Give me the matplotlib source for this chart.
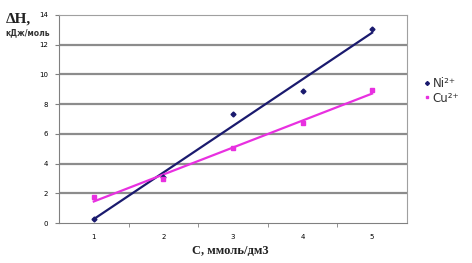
import numpy as np
import matplotlib
matplotlib.use('Agg')
from matplotlib import pyplot as plt

# concentration, mmol/dm3
conc = [1, 2, 3, 4, 5]
# enthalpy, kJ/mol
dh_ni = [0.27, 3.1, 7.35, 8.9, 13.05]
dh_cu = [1.75, 2.95, 5.05, 6.7, 8.95]
y_ticks = [0, 2, 4, 6, 8, 10, 12, 14]

fig = plt.figure(figsize=(4.72, 2.63), dpi=100)
ax = fig.add_axes([0.125, 0.152, 0.737, 0.791])

ax.set_xlim(0.5, 5.5)
ax.set_ylim(0, 14)
ax.set_yticks(y_ticks)
ax.set_xticks(conc)
ax.set_xticks([1.5, 2.5, 3.5, 4.5], minor=True)
for y in y_ticks[1:-1]:
    ax.axhline(y, color='#8c8c8c', lw=1.6, zorder=1)

ni_col = '#1a1a6e'
cu_col = '#e830e0'
x = np.array(conc)
for vals, col, mk, lab in [(dh_ni, ni_col, 'D', 'Ni²⁺'),
                           (dh_cu, cu_col, 's', 'Cu²⁺')]:
    k, b = np.polyfit(x, vals, 1)
    ax.plot(x[[0, -1]], k * x[[0, -1]] + b, color=col, lw=1.6, zorder=3)
    ax.plot(x, vals, linestyle='none', marker=mk, ms=2.5, color=col,
            label=lab, zorder=4)

for s in ['top', 'right']:
    ax.spines[s].set_color('#a0a0a0')
for s in ['left', 'bottom']:
    ax.spines[s].set_color('#808080')
ax.tick_params(axis='both', which='both', labelsize=5, length=3,
               color='#808080', pad=5)
ax.tick_params(axis='x', which='major', length=0, pad=8)

leg = ax.legend(loc='center left', bbox_to_anchor=(1.02, 0.635), frameon=False,
                fontsize=8.5, handlelength=0.4, handletextpad=0.3,
                labelspacing=0.1, markerscale=0.8)
for t in leg.get_texts():
    t.set_color('#333333')

fig.text(0.012, 0.915, 'ΔH,', fontsize=11, fontweight='bold',
         family='Liberation Serif', color='#222222')
fig.text(0.012, 0.865, 'кДж/моль', fontsize=5.5, fontweight='bold',
         color='#333333')
fig.text(0.487, 0.035, 'C, ммоль/дм3', fontsize=9, fontweight='bold',
         family='Liberation Serif', ha='center', color='#222222')

fig.savefig('out.png', dpi=100)
